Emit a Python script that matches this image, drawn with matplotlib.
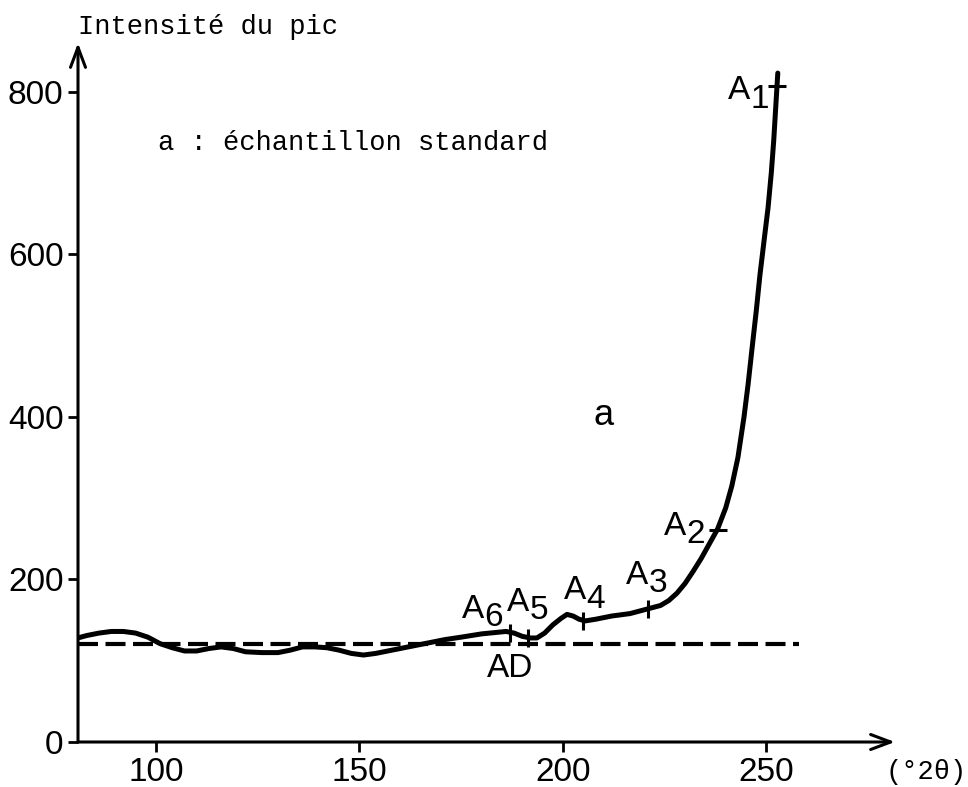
import matplotlib.pyplot as plt

# trace of curve "a"
curve_x = [80.8, 83, 86, 89, 92, 95, 98, 101, 104, 107, 110, 113, 116, 119, 122,
           126, 130, 133, 136, 139, 142, 145, 148, 151, 154, 157, 160, 163, 167,
           171, 175, 180, 184, 186, 188, 190, 192, 193.6, 195.5, 197.5, 199.5, 201,
           202.5, 204, 205.5, 208, 212, 216.5, 221, 224, 226, 228, 230, 232, 234,
           236, 238, 240, 241.5, 243, 244.5, 245.5, 246.6, 247.5, 248.4, 249.5,
           250.4, 251.2, 251.8, 252.4, 252.8]
curve_y = [128, 131, 134, 136, 136, 134, 129, 121, 116, 112, 112, 115, 117, 115, 111,
           110, 110, 113, 117, 117, 116, 113, 109, 107, 109, 112, 115, 118, 122,
           126, 129, 133, 135, 136, 134, 130, 128, 128, 134, 144, 152, 157,
           155, 151, 149, 151, 155, 158, 164, 168, 174, 183, 195, 210, 226,
           244, 262, 288, 315, 350, 400, 440, 490, 530, 574, 620,
           657, 700, 740, 790, 823]

# AD baseline (dashed)
ad_x = [80.8, 258]
ad_y = [120, 120]

# points A1..A6 marked on the curve
pts_name = ["1", "2", "3", "4", "5", "6"]
pts_x = [252.6, 238, 221, 205, 191.4, 187]
pts_y = [807, 261, 164, 149, 128, 134]
# where the labels go ("A" centre)
lab_x = [243.2, 227.5, 218.2, 202.9, 188.9, 177.9]
lab_y = [801, 265, 205, 186, 172, 163]

xticks = [100, 150, 200, 250]
yticks = [0, 200, 400, 600, 800]

mono = ["Liberation Mono", "DejaVu Sans Mono"]
narrow = ["Liberation Sans Narrow", "Liberation Sans", "DejaVu Sans"]

fig = plt.figure(figsize=(9.68, 7.87), dpi=100)
ax = fig.add_axes([78 / 968, 45 / 787, 817 / 968, 699 / 787])
ax.set_xlim(80.84, 281.6)
ax.set_ylim(0, 860)

for s in ax.spines.values():
    s.set_visible(False)
arrow = dict(arrowstyle="->,head_length=0.8,head_width=0.3", lw=2.2, color="black",
             shrinkA=0, shrinkB=0, mutation_scale=18)
ax.annotate("", xy=(1, 0), xytext=(0, 0), xycoords="axes fraction", arrowprops=arrow)
ax.annotate("", xy=(0, 1), xytext=(0, 0), xycoords="axes fraction", arrowprops=arrow)

ax.set_xticks(xticks)
ax.set_yticks(yticks)
ax.tick_params(direction="out", length=7.5, width=2.0, labelsize=24, pad=3)
for lbl in ax.get_xticklabels() + ax.get_yticklabels():
    lbl.set_family(narrow)

ax.plot(curve_x, curve_y, color="black", lw=3.6, solid_capstyle="round",
        solid_joinstyle="round")
ax.plot(ad_x, ad_y, color="black", lw=3.0, dashes=(4.8, 1.8))

# cross marks on the curve
for i in range(len(pts_x)):
    m = "_" if i < 2 else "|"
    ax.plot(pts_x[i], pts_y[i], marker=m, color="black", markersize=13, mew=2.2)
    ax.text(lab_x[i], lab_y[i], "A", family=narrow, fontsize=24, ha="center", va="center")
    ax.annotate(pts_name[i], (lab_x[i], lab_y[i]), xytext=(15, -6),
                textcoords="offset points", family=narrow, fontsize=24,
                ha="center", va="center")

ax.text(187, 91, "AD", family=narrow, fontsize=24, ha="center", va="center")
ax.text(210, 402, "a", family=narrow, fontsize=26, ha="center", va="center")

fig.text(78 / 968, 1 - 27 / 787, "Intensité du pic", family=mono, fontsize=19.5,
         ha="left", va="center")
fig.text(158 / 968, 1 - 143 / 787, "a : échantillon standard", family=mono,
         fontsize=19.5, ha="left", va="center")
fig.text(926 / 968, 1 - 772 / 787, "(°2θ)", family=mono, fontsize=19.5,
         ha="center", va="center")

plt.savefig("out.png", dpi=100)
